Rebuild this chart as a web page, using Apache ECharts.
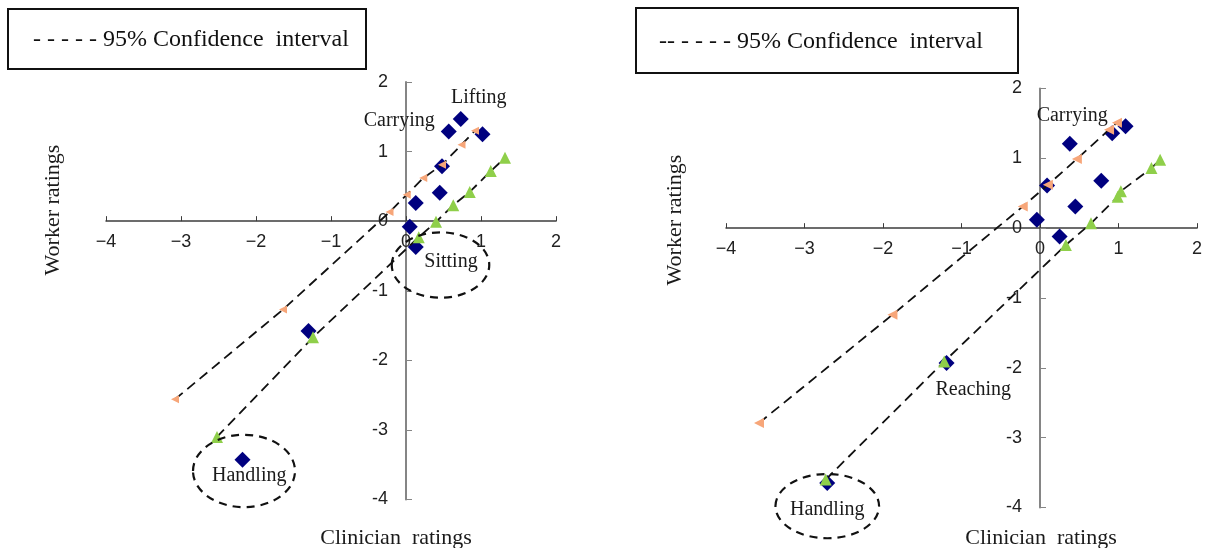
<!DOCTYPE html>
<html>
<head>
<meta charset="utf-8">
<script src="https://cdn.jsdelivr.net/npm/echarts@6/dist/echarts.min.js"></script>
<style>
  html, body { margin: 0; background: #fff; }
  #chart { width: 1205px; height: 548px; }
</style>
</head>
<body>
<div id="chart"></div>
<script>
// tick values shared by both panels
const axisTicks = [-4, -3, -2, -1, 0, 1, 2]

// left panel: [clinician, worker]
const leftItems = [[0.73, 1.47], [0.57, 1.29], [1.02, 1.25], [0.48, 0.79], [0.45, 0.41],
  [0.13, 0.26], [0.05, -0.08], [0.13, -0.37], [-1.30, -1.58], [-2.18, -3.43]]
const leftUpper = [[-3.08, -2.56], [-1.64, -1.27], [-0.22, 0.13], [0.01, 0.38], [0.23, 0.62],
  [0.48, 0.81], [0.74, 1.10], [0.92, 1.30]]
const leftLower = [[-2.52, -3.10], [-1.24, -1.67], [0.17, -0.23], [0.40, -0.01], [0.63, 0.23],
  [0.85, 0.42], [1.13, 0.72], [1.32, 0.91]]

// right panel
const rightItems = [[1.09, 1.46], [0.92, 1.36], [0.38, 1.21], [0.09, 0.61], [0.78, 0.68],
  [0.45, 0.31], [-0.04, 0.12], [0.25, -0.12], [-1.19, -1.93], [-2.71, -3.65]]
const rightUpper = [[-3.58, -2.79], [-1.88, -1.24], [-0.22, 0.31], [0.10, 0.62], [0.47, 0.99],
  [0.88, 1.41], [0.98, 1.51]]
const rightLower = [[-2.73, -3.60], [-1.22, -1.91], [0.33, -0.24], [0.65, 0.07], [0.99, 0.45],
  [1.03, 0.53], [1.42, 0.86], [1.53, 0.98]]

// annotations (data coords)
const leftNotes = [['Lifting', 0.97, 1.78], ['Carrying', -0.09, 1.45], ['Sitting', 0.60, -0.59], ['Handling', -2.09, -3.66]]
const leftRings = [[0.46, -0.63, 0.65, 0.47], [-2.16, -3.59, 0.68, 0.52]]
const rightNotes = [['Carrying', 0.41, 1.61], ['Reaching', -0.85, -2.31], ['Handling', -2.71, -4.03]]
const rightRings = [[-2.71, -3.98, 0.66, 0.46]]

const legendText = '95% Confidence  interval'

const navy = '#00007f'
const orange = '#f7a679'
const green = '#8fcf4a'
const serif = '"Liberation Serif", "DejaVu Serif", serif'
const sans = '"Liberation Sans", Arial, sans-serif'

const grids = [
  { left: 106, top: 82, width: 450, height: 417.5 },
  { left: 726, top: 88.5, width: 474, height: 419 }
]

const chart = echarts.init(document.getElementById('chart'), null, { renderer: 'canvas' })

const makeX = (i, offset) => ({
  gridIndex: i, type: 'value', position: 'bottom', offset,
  min: axisTicks[0], max: axisTicks[axisTicks.length - 1], interval: 1,
  splitLine: { show: false },
  axisLine: { onZero: false, lineStyle: { color: '#3c3c3c', width: 1.5 } },
  axisTick: { inside: true, length: 5, lineStyle: { color: '#3c3c3c' } },
  axisLabel: {
    margin: 12, fontSize: 18, color: '#222', fontFamily: sans,
    showMinLabel: true, showMaxLabel: true,
    formatter: v => String(v).replace('-', '\u2212')
  }
})

const makeY = (i, offset) => ({
  gridIndex: i, type: 'value', position: 'left', offset,
  min: axisTicks[0], max: axisTicks[axisTicks.length - 1], interval: 1,
  splitLine: { show: false },
  axisLine: { onZero: false, lineStyle: { color: '#858585', width: 2 } },
  axisTick: { inside: true, length: 6, lineStyle: { color: '#858585' } },
  axisLabel: {
    margin: 18, fontSize: 18, color: '#222', fontFamily: sans,
    showMinLabel: true, showMaxLabel: true,
    formatter: v => String(v)
  }
})

const ciLine = { color: '#111', width: 1.8, type: [10, 6] }

const panelSeries = (i, items, upper, lower, notes, rings, orangeSize) => [
  {
    type: 'scatter', xAxisIndex: i, yAxisIndex: i,
    data: items, symbol: 'diamond', symbolSize: 16,
    itemStyle: { color: navy, opacity: 1 }, z: 3
  },
  {
    type: 'line', xAxisIndex: i, yAxisIndex: i,
    data: upper, symbol: 'triangle', symbolSize: orangeSize, symbolRotate: 90,
    showAllSymbol: true, lineStyle: ciLine,
    itemStyle: { color: orange, opacity: 1 }, z: 4
  },
  {
    type: 'line', xAxisIndex: i, yAxisIndex: i,
    data: lower, symbol: 'triangle', symbolSize: 12,
    showAllSymbol: true, lineStyle: ciLine,
    itemStyle: { color: green, opacity: 1 }, z: 4
  },
  {
    type: 'custom', xAxisIndex: i, yAxisIndex: i, clip: false, silent: true, z: 5,
    data: rings,
    renderItem: (params, api) => {
      const c = api.coord([api.value(0), api.value(1)])
      const s = api.size([api.value(2), api.value(3)])
      return {
        type: 'ellipse',
        shape: { cx: c[0], cy: c[1], rx: s[0], ry: s[1] },
        style: { fill: 'none', stroke: '#111', lineWidth: 2.2, lineDash: [8, 6] }
      }
    }
  },
  {
    type: 'custom', xAxisIndex: i, yAxisIndex: i, clip: false, silent: true, z: 6,
    data: notes.map(n => [n[1], n[2]]),
    renderItem: (params, api) => {
      const c = api.coord([api.value(0), api.value(1)])
      return {
        type: 'text', x: c[0], y: c[1],
        style: {
          text: notes[params.dataIndex][0], fill: '#1a1a1a',
          font: '20px ' + serif, align: 'center', verticalAlign: 'middle'
        }
      }
    }
  }
]

const legendBox = (x, y, w, h, tx, dashes) => ({
  type: 'group',
  children: [
    { type: 'rect', shape: { x, y, width: w, height: h }, style: { fill: '#fff', stroke: '#111', lineWidth: 2 } },
    { type: 'text', x: tx, y: y + h / 2 + 1, style: { text: dashes + ' ' + legendText, font: '24px ' + serif, fill: '#111', verticalAlign: 'middle' } }
  ]
})

const axisTitle = (text, x, y, rot) => ({
  type: 'text', x, y, rotation: rot ? Math.PI / 2 : 0,
  style: { text, font: '22px ' + serif, fill: '#1a1a1a', align: 'center', verticalAlign: 'middle' }
})

const buildOption = (offsets) => ({
  animation: false,
  grid: grids,
  xAxis: [makeX(0, offsets[0].x), makeX(1, offsets[1].x)],
  yAxis: [makeY(0, offsets[0].y), makeY(1, offsets[1].y)],
  series: [
    ...panelSeries(0, leftItems, leftUpper, leftLower, leftNotes, leftRings, 8),
    ...panelSeries(1, rightItems, rightUpper, rightLower, rightNotes, rightRings, 10)
  ],
  graphic: [
    legendBox(8, 9, 358, 60, 33, '- - - - -'),
    legendBox(636, 8, 382, 65, 659, '-- - - - -'),
    axisTitle('Worker ratings', 53, 210, true),
    axisTitle('Worker ratings', 675, 220, true),
    axisTitle('Clinician  ratings', 396, 538, false),
    axisTitle('Clinician  ratings', 1041, 538, false)
  ]
})

// first pass to get the scales, then move both axes so they cross at (0, 0)
chart.setOption(buildOption([{ x: 0, y: 0 }, { x: 0, y: 0 }]))
const offsets = grids.map((g, i) => {
  const p = chart.convertToPixel({ gridIndex: i }, [0, 0])
  return { x: p[1] - (g.top + g.height), y: g.left - p[0] }
})
chart.setOption(buildOption(offsets))
</script>
</body>
</html>
